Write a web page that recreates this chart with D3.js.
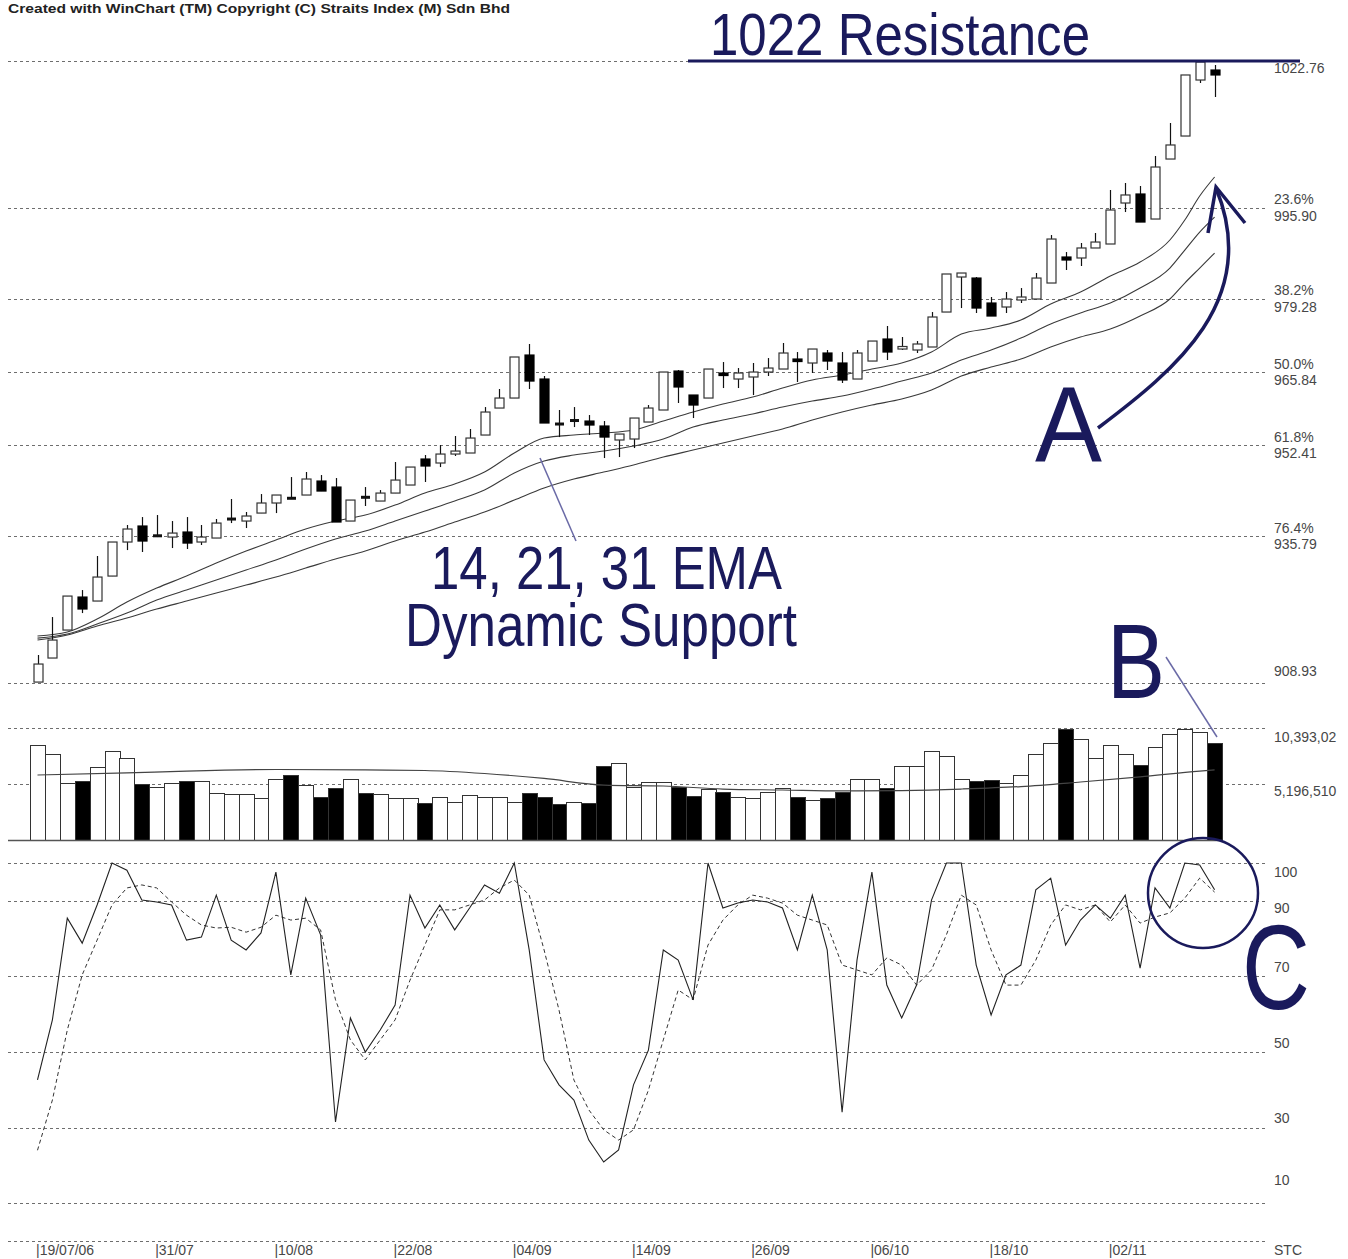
<!DOCTYPE html>
<html><head><meta charset="utf-8">
<script src="https://cdn.jsdelivr.net/npm/d3@7"></script>
<style>body{margin:0;background:#fff}svg{display:block}</style>
</head><body>
<svg id="chart" width="1348" height="1259"></svg>
<script>
// ---------------- DATA ----------------
const opens = [909.10,913.50,918.62,924.66,923.93,928.50,934.73,937.66,935.73,935.64,
936.56,934.73,935.46,938.75,938.57,940.03,941.87,942.87,943.33,945.89,
944.79,938.57,943.05,942.23,943.69,945.16,949.92,949.19,950.83,951.02,
954.31,959.25,961.08,968.95,964.56,956.51,956.78,956.87,955.96,953.40,
953.58,956.69,958.89,966.02,961.63,961.08,965.66,964.56,964.93,965.84,
966.39,968.22,967.49,969.32,967.49,964.56,967.85,971.88,970.05,969.87,
970.42,976.82,983.23,983.04,978.47,977.74,979.02,979.20,982.13,986.89,
986.71,988.54,989.27,996.77,998.42,993.84,1004.82,1009.03,1019.28,1021.11];
const highs = [914.05,921.00,924.84,925.94,932.17,934.73,937.84,939.30,939.67,938.57,
939.30,937.84,938.94,942.60,940.22,943.51,943.33,946.62,947.54,946.99,
946.44,942.41,944.79,944.24,949.37,948.45,950.65,952.48,954.13,955.41,
959.43,962.73,968.59,970.97,965.11,958.89,959.43,957.97,956.87,954.49,
957.42,959.80,965.84,966.21,961.63,966.39,967.67,966.57,967.49,968.40,
971.15,969.50,970.05,969.87,969.50,969.87,971.51,974.26,972.25,971.51,
976.82,983.78,983.96,983.23,979.57,980.48,981.21,983.96,990.91,987.80,
989.45,991.28,999.15,1000.43,999.88,1005.37,1011.41,1020.20,1022.76,1022.03];
const lows = [909.10,913.50,918.62,921.73,923.93,928.50,933.26,932.90,935.64,933.63,
933.45,934.18,935.46,938.20,937.29,940.03,940.03,942.60,943.33,944.06,
938.39,938.57,941.32,942.23,943.69,945.16,945.71,948.45,950.47,951.02,
954.31,959.25,961.08,962.73,956.51,953.94,955.77,954.31,950.10,950.28,
951.93,956.69,958.89,960.17,957.42,961.08,962.91,962.91,961.63,965.11,
966.39,964.01,965.66,966.21,963.83,964.56,967.85,968.04,969.87,969.32,
970.42,976.82,977.55,976.64,976.09,976.64,978.47,979.20,982.13,984.51,
985.24,988.54,989.27,995.12,993.29,993.84,1004.82,1009.03,1018.73,1016.17];
const closes = [912.40,916.79,924.84,922.47,928.32,934.73,937.11,934.91,936.01,936.37,
934.54,935.64,938.20,939.12,939.49,941.87,943.33,942.60,946.26,944.06,
938.39,942.41,942.78,943.69,946.07,948.45,948.64,950.83,951.38,953.76,
958.52,961.08,968.59,964.19,956.51,956.14,957.15,956.14,953.94,954.49,
957.42,959.25,965.84,963.10,959.80,966.39,965.20,965.66,965.84,966.57,
969.32,967.76,970.05,967.85,964.38,969.32,971.51,969.50,970.51,970.97,
975.91,983.78,983.96,977.55,976.09,979.20,979.57,983.04,990.18,986.34,
988.54,989.63,995.49,998.24,993.29,1003.36,1007.39,1020.20,1022.58,1020.20];

// volume in millions of shares
const volumes = [8.82,7.98,5.26,5.47,6.80,8.26,7.58,5.20,4.95,5.26,
5.47,5.47,4.39,4.24,4.24,3.87,5.63,6.03,5.10,4.02,
4.85,5.63,4.39,4.27,3.87,3.87,3.41,4.02,3.55,4.18,
4.02,4.02,3.55,4.39,4.02,3.31,3.55,3.41,6.89,7.17,
4.95,5.41,5.41,4.95,4.08,4.70,4.48,4.02,3.87,4.48,
4.85,4.02,3.71,3.93,4.48,5.63,5.63,4.80,6.87,6.87,
8.29,7.79,5.63,5.47,5.57,5.32,6.03,7.98,9.03,10.27,
9.34,7.58,8.82,7.95,6.96,8.66,9.84,10.27,10.05,8.97];
const volMAIdx = [0,6,10,16,22,26,30,34,38,42,46,50,54,58,62,66,70,74,78,79];
const volMA = [6.03,6.22,6.40,6.54,6.50,6.45,6.17,5.71,5.10,5.01,4.73,4.64,4.55,4.59,4.73,4.96,5.38,5.85,6.40,6.50];

// stochastic %K (solid) and %D (dashed)
const stochK = [42.6,58.5,85.4,78.8,88.9,100,98.1,90.2,89.7,88.9,
79.6,80.4,91.5,79.6,77.0,81.5,97.6,70.4,90.7,81.0,
31.5,59.0,50.0,55.8,62.4,91.5,82.8,88.9,82.3,88.1,
94.2,92.0,100,77.0,47.9,41.3,37.3,26.7,20.9,24.1,
41.3,50.5,77.0,74.3,63.8,100,88.1,89.4,90.2,89.7,
88.1,77.0,91.5,77.0,34.1,74.3,97.6,67.7,59.0,67.7,
90.2,100,100,73.0,59.8,70.4,73.0,92.9,96.0,78.3,
84.9,88.9,85.4,91.5,72.2,93.4,88.1,100,99.5,92.9];
const stochD = [24.0,37.3,55.8,70.4,79.6,88.9,93.4,94.2,93.4,89.7,
86.2,83.6,82.8,83.0,81.7,83.0,86.2,84.9,85.4,82.3,
63.8,53.2,47.9,53.2,58.5,69.0,78.3,87.6,87.6,88.9,
90.2,93.4,95.5,91.5,77.0,61.1,42.6,34.7,29.4,26.7,
29.4,39.9,53.2,66.4,63.8,78.3,84.9,88.9,91.5,90.7,
89.4,86.2,84.9,83.6,73.0,71.7,70.4,74.9,73.0,67.7,
71.7,81.0,91.5,88.9,77.0,67.7,67.7,74.3,83.6,88.9,
87.6,88.9,84.4,88.9,84.1,85.7,86.8,90.7,96.0,92.3];

// EMA lines (read at these bar indices)
const emaIdx = [0,2,4,6,8,10,12,14,16,18,20,22,24,26,28,30,32,34,36,38,40,42,44,46,48,50,52,54,56,58,60,62,64,66,68,70,72,74,76,77,78,79];
const ema14 = [917.52,918.25,920.63,923.74,926.30,928.50,930.88,933.08,935.09,937.10,938.57,939.66,941.49,943.69,945.34,947.53,951.01,953.76,954.31,954.67,955.22,956.87,958.52,959.98,961.26,962.91,964.37,965.29,966.39,967.48,969.50,972.79,973.89,975.35,978.28,980.48,983.41,985.97,990.00,993.66,998.05,1001.53];
const ema21 = [917.15,917.89,919.72,921.73,924.11,925.94,927.77,929.60,931.43,933.44,935.27,936.74,938.57,940.40,942.23,944.24,947.35,949.55,950.65,951.38,952.29,953.57,955.77,957.05,958.15,959.43,960.53,961.44,962.73,964.19,965.65,968.03,969.86,972.06,974.62,976.63,978.46,981.21,984.87,988.16,991.46,994.20];
const ema31 = [916.79,917.70,919.35,920.81,922.46,923.92,925.39,926.85,928.32,929.96,931.61,933.08,934.91,936.55,938.38,940.21,942.41,944.61,946.25,947.53,948.82,950.28,951.56,952.84,954.12,955.40,957.05,958.52,959.80,960.90,962.54,965.10,966.75,968.22,970.41,972.24,973.71,976.09,979.20,982.13,984.87,987.62];

const dateTickIdx = [0,8,16,24,32,40,48,56,64,72];
const dateTickLabels = ["19/07/06","31/07","10/08","22/08","04/09","14/09","26/09","06/10","18/10","02/11"];
const fibValues = [1022.76,995.90,979.28,965.84,952.41,935.79,908.93];
const fibPct = ["","23.6%","38.2%","50.0%","61.8%","76.4%",""];
const volTicks = [10.39302,5.19651];
const volTickLabels = ["10,393,02","5,196,510"];
const stochTicks = [100,90,70,50,30,10];

// ---------------- DRAW ----------------
const N = closes.length;
const svg = d3.select("#chart");
const NAVY = "#1a1a5c";
const GRID = "#6e6e6e";
const LBL = "#474747";
const xL = 8, xR = 1268;

const x = d3.scaleLinear().domain([0, N - 1]).range([37.5, 37.5 + 14.9 * (N - 1)]);
const yP = d3.scaleLinear().domain([908.93, 1022.76]).range([683, 61]);
const yV = d3.scaleLinear().domain([0, 10.39302]).range([840, 728]);
const yS = d3.scaleLinear().domain([0, 100]).range([1241, 863]);

const grid = svg.append("g").attr("stroke", GRID).attr("stroke-width", 1).attr("stroke-dasharray", "3,3");
function hline(y) {
  grid.append("line").attr("x1", xL).attr("x2", xR)
    .attr("y1", Math.round(y) + 0.5).attr("y2", Math.round(y) + 0.5);
}
fibValues.forEach(v => hline(yP(v)));
volTicks.forEach(v => hline(yV(v)));
stochTicks.forEach(v => hline(yS(v)));
hline(yS(0));

const lab = svg.append("g").attr("font-family", "'Liberation Sans', Arial, sans-serif")
  .attr("font-size", 14).attr("fill", LBL);
const lx = 1274;
// price labels
fibValues.forEach((v, i) => {
  const y = yP(v);
  if (i === 0) lab.append("text").attr("x", lx).attr("y", y + 12).text(v.toFixed(2));
  else if (i === fibValues.length - 1) lab.append("text").attr("x", lx).attr("y", y - 7).text(v.toFixed(2));
  else {
    lab.append("text").attr("x", lx).attr("y", y - 3.5).text(fibPct[i]);
    lab.append("text").attr("x", lx).attr("y", y + 13).text(v.toFixed(2));
  }
});
volTicks.forEach((v, i) => {
  lab.append("text").attr("x", lx).attr("y", yV(v) + (i === 0 ? 14 : 12)).text(volTickLabels[i]);
});
const stochLblOff = {100: 14, 90: 12, 70: -4, 50: -4, 30: -5, 10: -18};
stochTicks.forEach(v => {
  lab.append("text").attr("x", lx).attr("y", yS(v) + stochLblOff[v]).text(v);
});
lab.append("text").attr("x", lx).attr("y", 1255).text("STC");
// date labels
dateTickIdx.forEach((d, i) => {
  lab.append("text").attr("x", x(d) - 1.5).attr("y", 1255).text("|" + dateTickLabels[i]);
});

// volume bars
const vg = svg.append("g").attr("shape-rendering", "crispEdges");
const bw = 14.9;
volumes.forEach((v, i) => {
  const down = closes[i] < opens[i];
  vg.append("rect")
    .attr("x", Math.round(x(i) - bw / 2) + 0.5)
    .attr("y", Math.round(yV(v)) + 0.5)
    .attr("width", Math.round(bw))
    .attr("height", Math.round(yV(0)) - Math.round(yV(v)))
    .attr("fill", down ? "#000" : "#fff")
    .attr("stroke", "#333").attr("stroke-width", 1);
});
svg.append("line").attr("x1", xL).attr("x2", x(N - 1) + bw / 2).attr("y1", 840.5).attr("y2", 840.5)
  .attr("stroke", "#555").attr("stroke-width", 1.5);
svg.append("path")
  .attr("d", d3.line().x((d, i) => x(volMAIdx[i])).y(d => yV(d)).curve(d3.curveMonotoneX)(volMA))
  .attr("fill", "none").attr("stroke", "#444").attr("stroke-width", 1.2);

// EMA lines
const emaLine = d3.line().x((d, i) => x(emaIdx[i])).y(d => yP(d)).curve(d3.curveMonotoneX);
[ema14, ema21, ema31].forEach(s => {
  svg.append("path").attr("d", emaLine(s)).attr("fill", "none")
    .attr("stroke", "#3a3a3a").attr("stroke-width", 1.1);
});

// candles
const cg = svg.append("g");
for (let i = 0; i < N; i++) {
  const cx = Math.round(x(i)) + 0.5;
  cg.append("line").attr("x1", cx).attr("x2", cx).attr("y1", yP(highs[i])).attr("y2", yP(lows[i]))
    .attr("stroke", "#111").attr("stroke-width", 1.2);
  const top = yP(Math.max(opens[i], closes[i]));
  const bot = yP(Math.min(opens[i], closes[i]));
  const down = closes[i] < opens[i];
  if (bot - top < 2.5) {
    cg.append("rect").attr("x", cx - 4.5).attr("y", (top + bot) / 2 - 1.5).attr("width", 9).attr("height", 3)
      .attr("fill", "#111");
  } else {
    cg.append("rect").attr("x", cx - 4.5).attr("y", top).attr("width", 9).attr("height", bot - top)
      .attr("fill", down ? "#000" : "#fff").attr("stroke", down ? "#000" : "#333").attr("stroke-width", 1.2);
  }
}

// stochastic
const sLine = d3.line().x((d, i) => x(i)).y(d => yS(d));
svg.append("path").attr("d", sLine(stochD)).attr("fill", "none").attr("stroke", "#333")
  .attr("stroke-width", 1).attr("stroke-dasharray", "4,3");
svg.append("path").attr("d", sLine(stochK)).attr("fill", "none").attr("stroke", "#222")
  .attr("stroke-width", 1.1);

// header
svg.append("text").attr("x", 8).attr("y", 13).attr("font-family", "'Liberation Sans', Arial, sans-serif")
  .attr("font-weight", "bold").attr("font-size", 13.5).attr("fill", "#222")
  .attr("textLength", 502).attr("lengthAdjust", "spacingAndGlyphs")
  .text("Created with WinChart (TM)  Copyright (C) Straits Index (M) Sdn Bhd");

// annotations
const ann = svg.append("g").attr("font-family", "'Liberation Sans Narrow', 'Liberation Sans', Arial, sans-serif")
  .attr("fill", NAVY);
svg.append("line").attr("x1", 688).attr("x2", 1300).attr("y1", 61).attr("y2", 61)
  .attr("stroke", NAVY).attr("stroke-width", 3);
function bigText(t, x0, y0, size, len) {
  ann.append("text").attr("x", x0).attr("y", y0).attr("font-size", size)
    .attr("textLength", len).attr("lengthAdjust", "spacingAndGlyphs").text(t);
}
bigText("1022 Resistance", 710, 54.5, 60, 380);
bigText("14, 21, 31 EMA", 431, 589, 62, 351);
bigText("Dynamic Support", 405, 646, 62, 392);
bigText("A", 1035, 462, 107, 67);
bigText("B", 1107, 698, 105, 58);
bigText("C", 1242, 1009, 120, 68);

svg.append("line").attr("x1", 540).attr("y1", 458).attr("x2", 576).attr("y2", 541)
  .attr("stroke", "#6a6aa6").attr("stroke-width", 1.5);
svg.append("line").attr("x1", 1166).attr("y1", 657).attr("x2", 1217).attr("y2", 737)
  .attr("stroke", "#6a6aa6").attr("stroke-width", 1.5);
svg.append("path").attr("d", "M1098,428 C1175,370 1262,300 1216,188")
  .attr("fill", "none").attr("stroke", NAVY).attr("stroke-width", 3.5);
svg.append("path").attr("d", "M1208,233 L1216,187 L1245,223")
  .attr("fill", "none").attr("stroke", NAVY).attr("stroke-width", 3.5).attr("stroke-linejoin", "miter");
svg.append("circle").attr("cx", 1203).attr("cy", 893).attr("r", 55)
  .attr("fill", "none").attr("stroke", NAVY).attr("stroke-width", 2.5);
</script>
</body></html>
